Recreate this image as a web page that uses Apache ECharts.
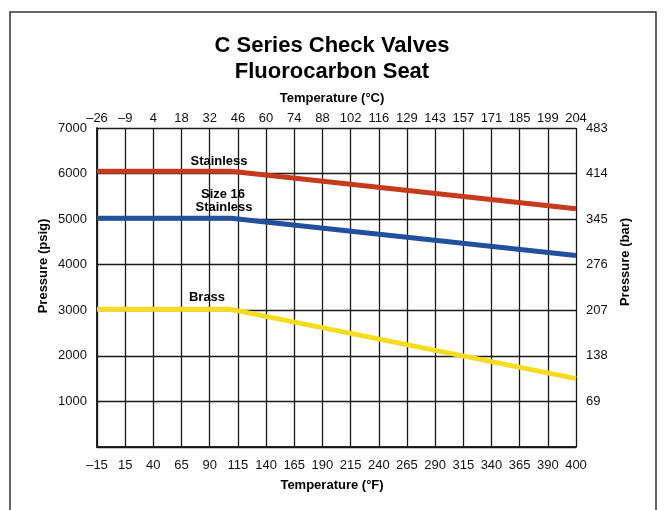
<!DOCTYPE html>
<html>
<head>
<meta charset="utf-8">
<script src="https://cdn.jsdelivr.net/npm/echarts@6/dist/echarts.min.js"></script>
<style>
  html, body { margin: 0; padding: 0; background: #fff; }
  #chart { width: 665px; height: 510px; }
</style>
</head>
<body>
<div id="chart"></div>
<script>
// tick labels, evenly spaced along the plot (positions 0..17)
const tempF = ['–15', '15', '40', '65', '90', '115', '140', '165', '190', '215', '240', '265', '290', '315', '340', '365', '390', '400']
const tempC = ['–26', '–9', '4', '18', '32', '46', '60', '74', '88', '102', '116', '129', '143', '157', '171', '185', '199', '204']
const barTicks = ['', '69', '138', '207', '276', '345', '414', '483']

// [tick position, psig]
const stainless = [[0, 6050], [4.75, 6050], [17, 5230]]
const size16Stainless = [[0, 5020], [4.75, 5020], [17, 4200]]
const brass = [[0, 3020], [4.75, 3020], [17, 1500]]

const GRID = { left: 97, top: 128, width: 479, height: 319 }
const lineCol = '#1a1a1a'
const font = '"Liberation Sans", Arial, sans-serif'

const chart = echarts.init(document.getElementById('chart'))

const mkX = (labels, position, margin) => ({
	type: 'value',
	position: position,
	min: 0,
	max: 17,
	interval: 1,
	axisLine: { show: true, lineStyle: { color: lineCol, width: 1.5 } },
	axisTick: { show: false },
	splitLine: { show: position == 'bottom', lineStyle: { color: lineCol, width: 1.3 } },
	axisLabel: {
		margin: margin,
		color: '#111',
		fontFamily: font,
		fontSize: 13,
		formatter: v => labels[Math.round(v)]
	}
})

const mkSeries = (name, data, color) => ({
	name: name,
	type: 'line',
	data: data,
	symbol: 'none',
	silent: true,
	lineStyle: { color: color, width: 5, cap: 'butt' },
	z: 3
})

const text = (str, x, y, size, extra) => Object.assign({
	type: 'text',
	x: x,
	y: y,
	style: {
		text: str,
		fontFamily: font,
		fontWeight: 'bold',
		fontSize: size,
		fill: '#000',
		align: 'center',
		verticalAlign: 'middle'
	},
	z: 10
}, extra || {})

chart.setOption({
	animation: false,
	backgroundColor: '#fff',
	grid: GRID,
	xAxis: [mkX(tempF, 'bottom', 12), mkX(tempC, 'top', 3)],
	yAxis: [
		{
			type: 'value',
			position: 'left',
			min: 0,
			max: 7000,
			interval: 1000,
			axisLine: { show: true, lineStyle: { color: lineCol, width: 1.5 } },
			axisTick: { show: false },
			splitLine: { show: true, lineStyle: { color: lineCol, width: 1.3 } },
			axisLabel: {
				margin: 10,
				color: '#111',
				fontFamily: font,
				fontSize: 13,
				formatter: v => v == 0 ? '' : String(v)
			}
		},
		{
			type: 'value',
			position: 'right',
			min: 0,
			max: 7,
			interval: 1,
			axisLine: { show: true, lineStyle: { color: lineCol, width: 1.5 } },
			axisTick: { show: false },
			splitLine: { show: false },
			axisLabel: {
				margin: 10,
				color: '#111',
				fontFamily: font,
				fontSize: 13,
				formatter: v => barTicks[Math.round(v)]
			}
		}
	],
	series: [
		mkSeries('Stainless', stainless, '#c63b1c'),
		mkSeries('Size 16 Stainless', size16Stainless, '#22509d'),
		mkSeries('Brass', brass, '#f5dc1f')
	],
	graphic: [
		{
			type: 'polyline',
			shape: { points: [[10, 512], [10, 12], [656, 12], [656, 512]] },
			style: { stroke: '#333', lineWidth: 1.5, fill: null }
		},
		text('C Series Check Valves', 332, 46, 22),
		text('Fluorocarbon Seat', 332, 72, 22),
		text('Temperature (°C)', 332, 98, 13),
		text('Temperature (°F)', 332, 485, 13),
		text('Pressure (psig)', 43, 266, 13, { rotation: Math.PI / 2 }),
		text('Pressure (bar)', 625, 262, 13, { rotation: Math.PI / 2 }),
		text('Stainless', 219, 161, 13),
		text('Size 16', 223, 194, 13),
		text('Stainless', 224, 207, 13),
		text('Brass', 207, 297, 13)
	]
})
</script>
</body>
</html>
